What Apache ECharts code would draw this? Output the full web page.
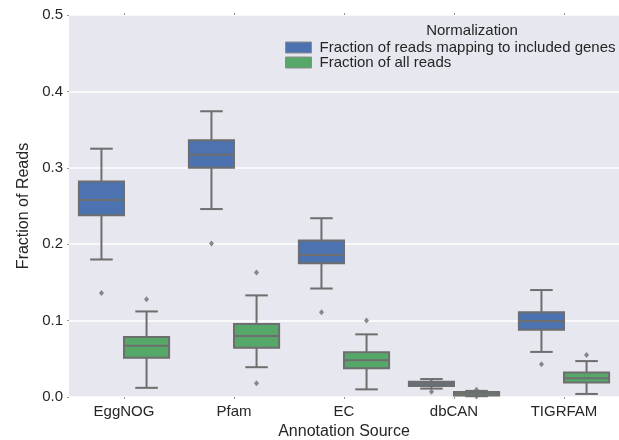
<!DOCTYPE html>
<html>
<head>
<meta charset="utf-8">
<script src="https://cdn.jsdelivr.net/npm/echarts@6/dist/echarts.min.js"></script>
<style>
  html, body { margin: 0; padding: 0; background: #fff; }
  #chart { width: 619px; height: 440px; }
</style>
</head>
<body>
<div id="chart"></div>
<script>
const categories = ['EggNOG', 'Pfam', 'EC', 'dbCAN', 'TIGRFAM'];
const seriesNames = ['Fraction of reads mapping to included genes', 'Fraction of all reads'];
// [low whisker, Q1, median, Q3, high whisker]
const mappedBoxes = [
  [0.180, 0.238, 0.258, 0.282, 0.325],
  [0.246, 0.300, 0.317, 0.336, 0.374],
  [0.142, 0.175, 0.186, 0.205, 0.234],
  [0.011, 0.0145, 0.0175, 0.020, 0.0235],
  [0.059, 0.088, 0.0995, 0.111, 0.140]
];
const allBoxes = [
  [0.012, 0.0515, 0.067, 0.0785, 0.112],
  [0.039, 0.0645, 0.080, 0.0955, 0.133],
  [0.010, 0.0375, 0.048, 0.0585, 0.082],
  [0.001, 0.002, 0.0045, 0.0065, 0.008],
  [0.004, 0.019, 0.0245, 0.032, 0.047]
];
// [category index, value]
const mappedOutliers = [[0, 0.136], [1, 0.201], [2, 0.111], [3, 0.007], [4, 0.043]];
const allOutliers = [[0, 0.128], [1, 0.163], [1, 0.018], [2, 0.100], [3, 0.0095], [3, 0.0005], [4, 0.055]];
const yTicks = [0, 0.1, 0.2, 0.3, 0.4, 0.5];

const colors = ['#4c72b0', '#55a868'];
const edge = '#6e6e6e';
const txt = '#262626';
const font = 'Liberation Sans, Arial, sans-serif';
const boxFrac = 0.41;      // box width as share of a category band
const outlierShift = 22.5; // px, half a box width

// box + whiskers drawn through the axes; side -1 = left box, +1 = right box
function boxRenderer(side) {
  return function (params, api) {
    const cat = api.value(0);
    const band = api.size([1, 0])[0];
    const w = band * boxFrac;
    const cx = api.coord([cat, 0])[0] + side * w / 2;
    const y = [1, 2, 3, 4, 5].map(k => api.coord([cat, api.value(k)])[1]);
    const cap = w / 4;
    const line = { stroke: edge, lineWidth: 2 };
    return {
      type: 'group',
      children: [
        { type: 'line', shape: { x1: cx, y1: y[0], x2: cx, y2: y[1] }, style: line },
        { type: 'line', shape: { x1: cx, y1: y[3], x2: cx, y2: y[4] }, style: line },
        { type: 'line', shape: { x1: cx - cap, y1: y[0], x2: cx + cap, y2: y[0] }, style: line },
        { type: 'line', shape: { x1: cx - cap, y1: y[4], x2: cx + cap, y2: y[4] }, style: line },
        { type: 'rect', shape: { x: cx - w / 2, y: y[3], width: w, height: y[1] - y[3] },
          style: { fill: api.visual('color'), stroke: edge, lineWidth: 2 } },
        { type: 'line', shape: { x1: cx - w / 2, y1: y[2], x2: cx + w / 2, y2: y[2] }, style: line }
      ]
    };
  };
}

const chart = echarts.init(document.getElementById('chart'));
chart.setOption({
  animation: false,
  color: colors,
  textStyle: { fontFamily: font },
  title: {
    text: 'Normalization',
    left: 467,
    top: 18,
    textAlign: 'center',
    textStyle: { fontSize: 15, fontWeight: 'normal', color: txt, fontFamily: font }
  },
  legend: {
    data: seriesNames,
    orient: 'vertical',
    left: 285,
    top: 40,
    padding: 0,
    itemWidth: 26,
    itemHeight: 11,
    itemGap: 0,
    icon: 'rect',
    itemStyle: { borderColor: '#8c8c8c', borderWidth: 1 },
    textStyle: { fontSize: 15, color: txt, lineHeight: 15, padding: [0, 0, 0, 3], fontFamily: font }
  },
  grid: {
    left: 69, right: 0, top: 15, bottom: 43,
    outerBoundsMode: 'none',
    show: true, backgroundColor: '#e6e7ef', borderWidth: 0
  },
  xAxis: [{
    type: 'category',
    data: categories,
    axisLine: { show: false },
    axisTick: { show: true, alignWithLabel: true, length: 2, lineStyle: { color: '#999' } },
    axisLabel: { fontSize: 15, color: txt, margin: 7 },
    splitLine: { show: false },
    name: 'Annotation Source',
    nameLocation: 'middle',
    nameGap: 26,
    nameTextStyle: { fontSize: 16, color: txt }
  }, {
    type: 'category',
    data: categories,
    position: 'top',
    axisLine: { show: false },
    axisTick: { show: true, alignWithLabel: true, length: 2, lineStyle: { color: '#999' } },
    axisLabel: { show: false }
  }],
  yAxis: {
    type: 'value',
    min: 0,
    max: 0.5,
    interval: 0.1,
    axisLine: { show: false },
    axisTick: { show: true, length: 2, lineStyle: { color: '#999' } },
    axisLabel: {
      fontSize: 15,
      color: txt,
      margin: 6,
      formatter: v => yTicks.includes(Math.round(v * 10) / 10) ? v.toFixed(1) : ''
    },
    splitLine: { lineStyle: { color: '#ffffff', width: 1.5 } },
    name: 'Fraction of Reads',
    nameLocation: 'middle',
    nameGap: 36,
    nameTextStyle: { fontSize: 16, color: txt }
  },
  series: [
    {
      name: seriesNames[0],
      type: 'custom',
      renderItem: boxRenderer(-1),
      data: mappedBoxes.map((d, i) => [i, ...d]),
      encode: { x: 0, y: [1, 2, 3, 4, 5] },
      itemStyle: { color: colors[0] },
      z: 2
    },
    {
      name: seriesNames[1],
      type: 'custom',
      renderItem: boxRenderer(1),
      data: allBoxes.map((d, i) => [i, ...d]),
      encode: { x: 0, y: [1, 2, 3, 4, 5] },
      itemStyle: { color: colors[1] },
      z: 2
    },
    {
      type: 'scatter',
      data: mappedOutliers,
      symbol: 'diamond',
      symbolSize: [5, 6],
      symbolOffset: [-outlierShift, 0],
      itemStyle: { color: edge },
      z: 3
    },
    {
      type: 'scatter',
      data: allOutliers,
      symbol: 'diamond',
      symbolSize: [5, 6],
      symbolOffset: [outlierShift, 0],
      itemStyle: { color: edge },
      z: 3
    }
  ]
});
</script>
</body>
</html>
